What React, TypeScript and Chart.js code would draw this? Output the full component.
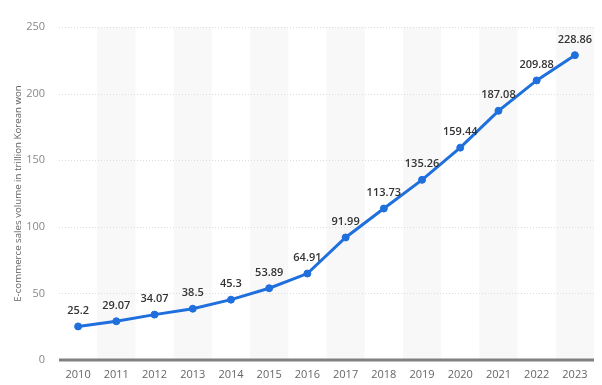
import React, { useEffect, useRef } from "react";
import { Chart, registerables } from "chart.js";

Chart.register(...registerables);

const years = ["2010","2011","2012","2013","2014","2015","2016","2017","2018","2019","2020","2021","2022","2023"];
const salesVolume = [25.2, 29.07, 34.07, 38.5, 45.3, 53.89, 64.91, 91.99, 113.73, 135.26, 159.44, 187.08, 209.88, 228.86];
const yTicks = [0, 50, 100, 150, 200, 250];
const yTitle = "E-commerce sales volume in trillion Korean won";

const FONT = "'Open Sans', 'DejaVu Sans', sans-serif";

const bandsPlugin = {
  id: "bands",
  beforeDatasetsDraw(chart: any) {
    const { ctx, chartArea, scales } = chart;
    const x = scales.x;
    const n = years.length;
    const w = (chartArea.right - chartArea.left) / n;
    ctx.save();
    ctx.fillStyle = "#f8f8f8";
    for (let i = 1; i < n; i += 2) {
      const cx = x.getPixelForValue(i);
      ctx.fillRect(cx - w / 2, chartArea.top, w, chartArea.bottom - chartArea.top);
    }
    const y = scales.y;
    ctx.strokeStyle = "#dcdcdc";
    ctx.lineWidth = 1;
    ctx.setLineDash([1, 2]);
    for (const t of yTicks) {
      if (t === 0) continue;
      const py = Math.round(y.getPixelForValue(t)) + 0.5;
      ctx.beginPath();
      ctx.moveTo(chartArea.left, py);
      ctx.lineTo(chartArea.right, py);
      ctx.stroke();
    }
    ctx.setLineDash([]);
    const y0 = y.getPixelForValue(0);
    ctx.strokeStyle = "#808080";
    ctx.lineWidth = 3;
    ctx.beginPath();
    ctx.moveTo(chartArea.left, y0);
    ctx.lineTo(chartArea.right, y0);
    ctx.stroke();
    ctx.restore();
  },
  afterDatasetsDraw(chart: any) {
    const { ctx } = chart;
    const meta = chart.getDatasetMeta(0);
    ctx.save();
    ctx.fillStyle = "#333333";
    ctx.font = `600 11px ${FONT}`;
    ctx.textAlign = "center";
    ctx.textBaseline = "bottom";
    meta.data.forEach((pt: any, i: number) => {
      ctx.fillText(String(salesVolume[i]), pt.x, pt.y - 10);
    });
    ctx.restore();
  },
};

export default function App() {
  const ref = useRef<HTMLCanvasElement>(null);
  useEffect(() => {
    const chart = new Chart(ref.current!, {
      type: "line",
      data: {
        labels: years,
        datasets: [
          {
            data: salesVolume,
            borderColor: "#1f6fdd",
            backgroundColor: "#1f6fdd",
            borderWidth: 3,
            pointRadius: 3.5,
            pointBorderWidth: 1,
            pointHoverRadius: 3.5,
            tension: 0,
          },
        ],
      },
      options: {
        animation: false,
        responsive: false,
        layout: { padding: { left: 0, right: 8, top: 27, bottom: 0 } },
        plugins: { legend: { display: false }, tooltip: { enabled: false } },
        scales: {
          x: {
            offset: true,
            grid: { display: false },
            border: { display: false },
            ticks: { color: "#666", font: { family: FONT, size: 11 }, padding: 0, maxRotation: 0 },
            afterFit: (s: any) => { s.height = 25; },
          },
          y: {
            min: 0,
            max: 250,
            grid: { display: false },
            border: { display: false },
            ticks: { stepSize: 50, color: "#888", font: { family: FONT, size: 11 }, padding: 6 },
            title: { display: true, text: yTitle, color: "#666", font: { family: FONT, size: 9.7 }, padding: { top: 12, bottom: 0 } },
            afterFit: (s: any) => { s.width = 59; },
          },
        },
      },
      plugins: [bandsPlugin],
    });
    return () => chart.destroy();
  }, []);
  return (
    <div style={{ position: "fixed", left: 0, top: 0, width: 602, height: 385, background: "#fff" }}>
      <canvas ref={ref} width={602} height={385} style={{ width: 602, height: 385 }} />
    </div>
  );
}
